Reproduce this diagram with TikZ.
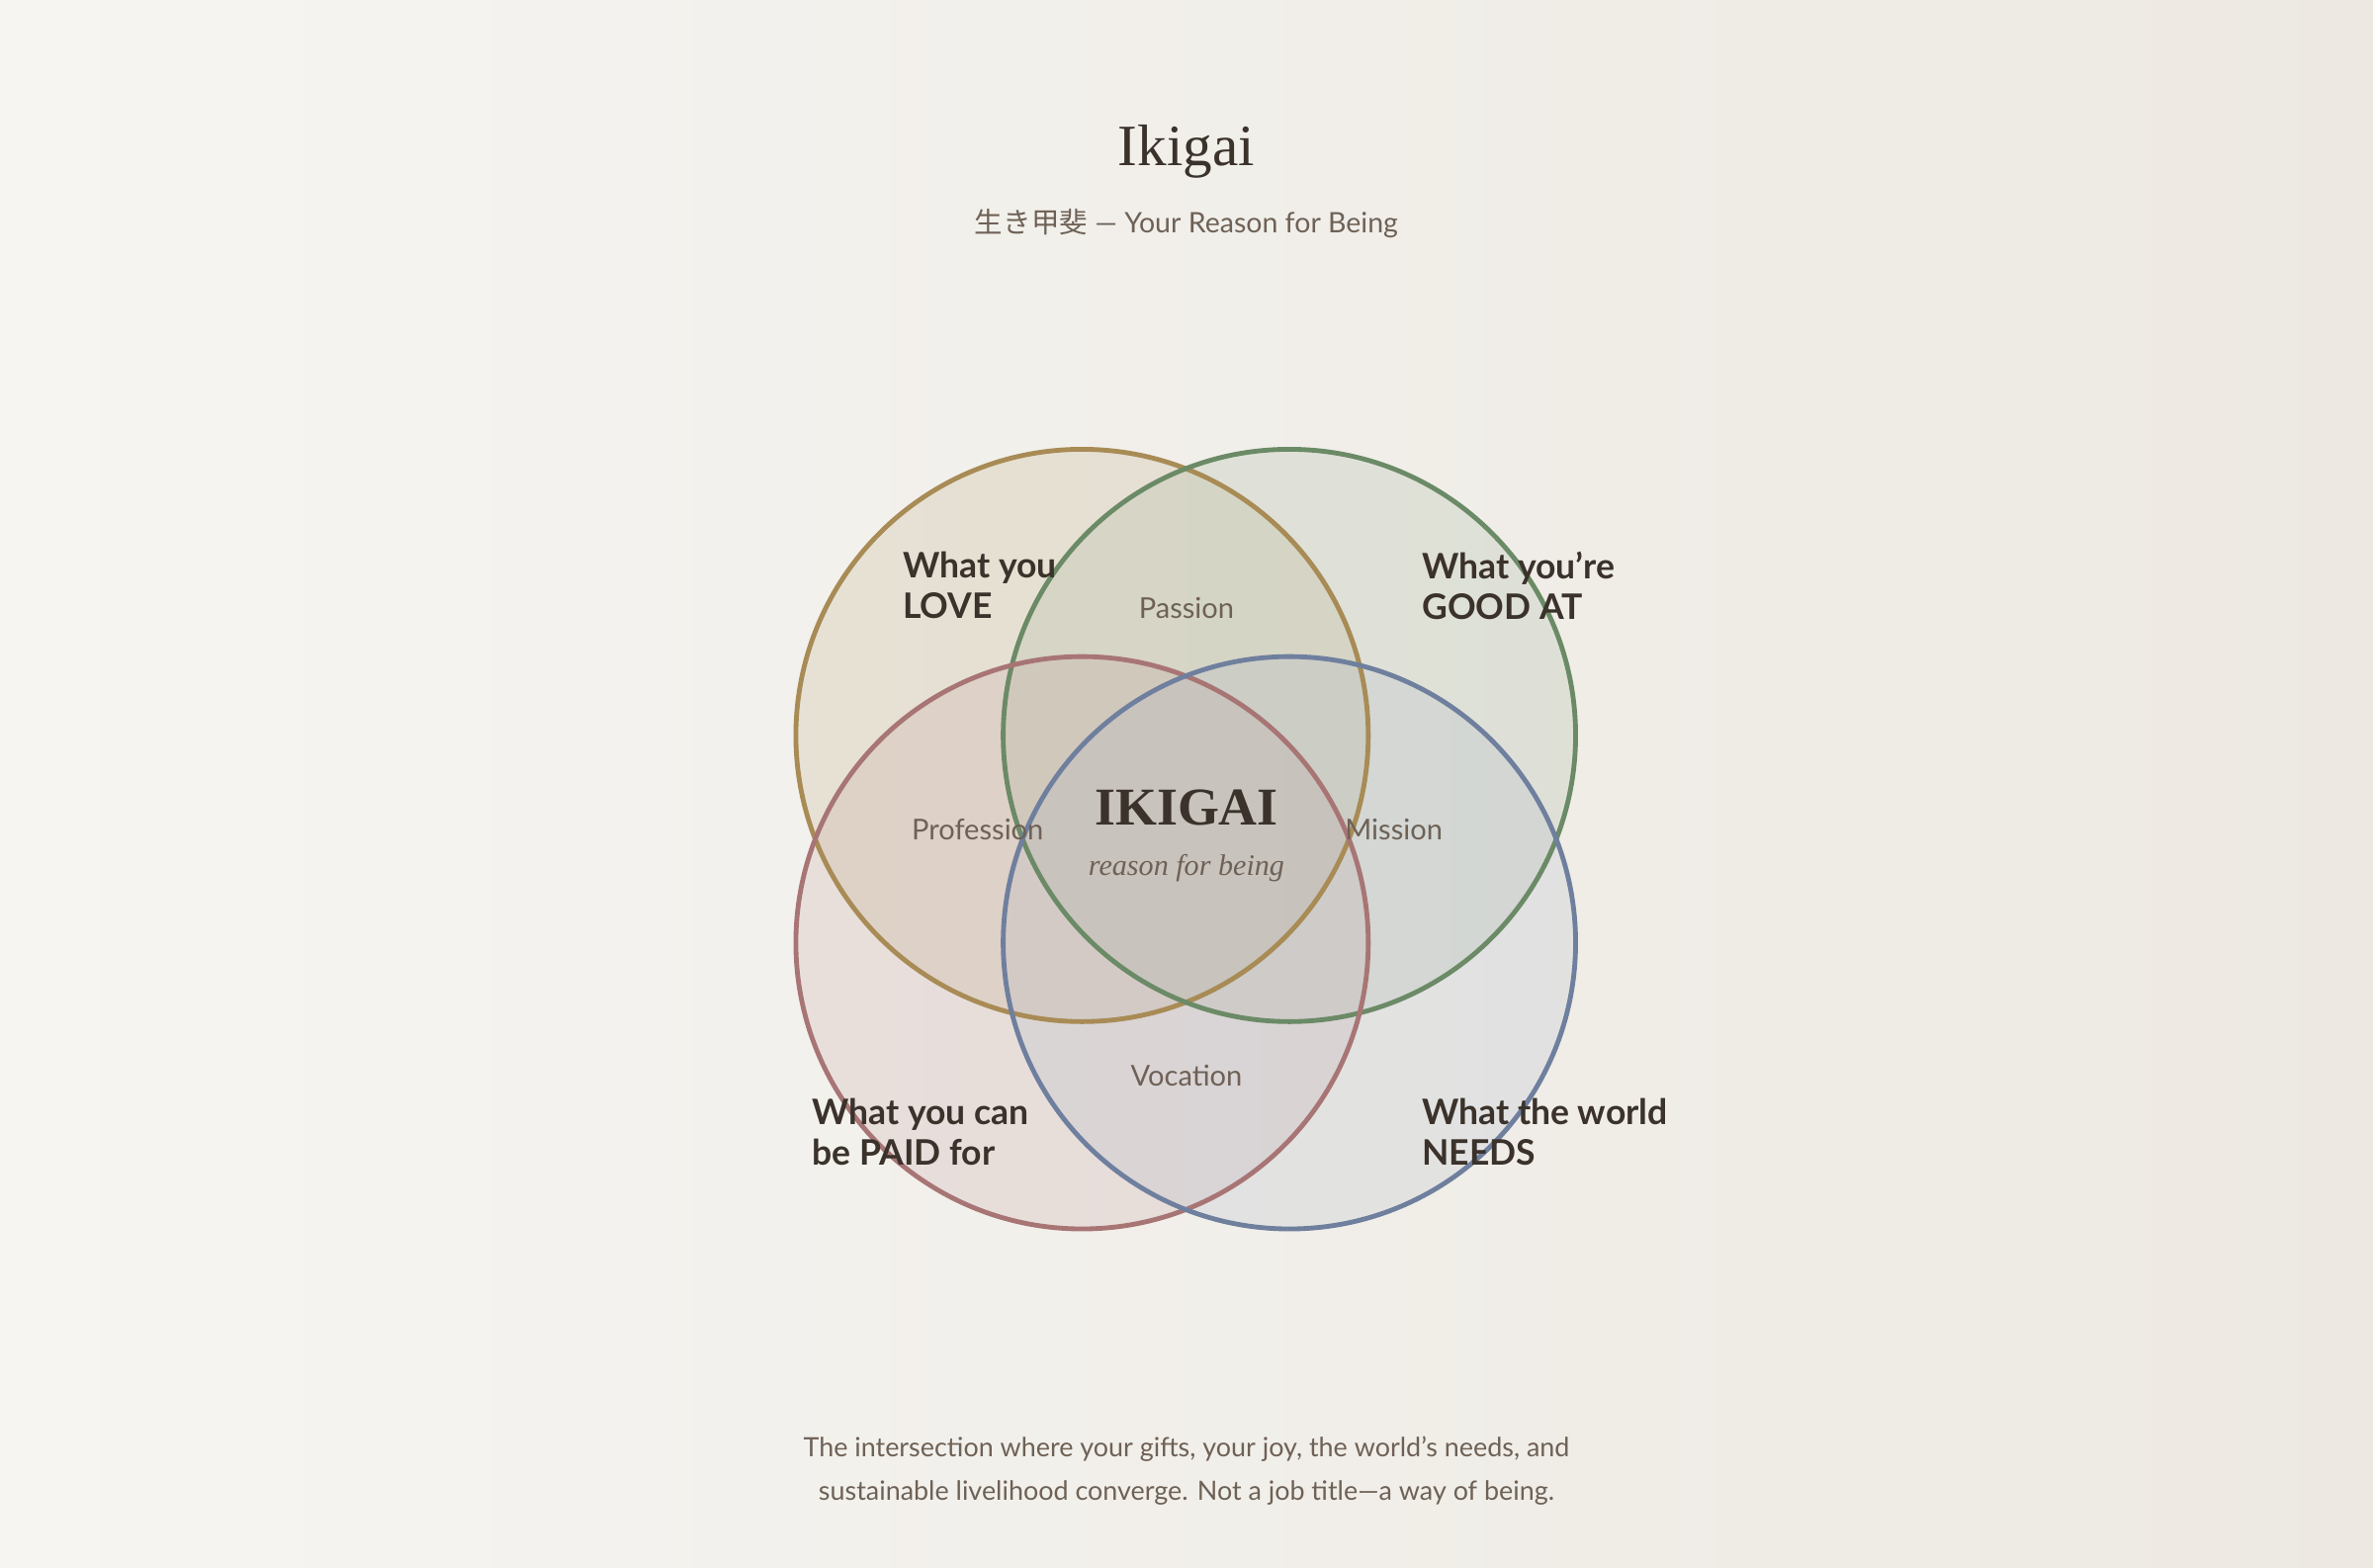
\documentclass[tikz,border=0pt]{standalone}
\usepackage{fontspec}
\setmainfont{Lato}
\newfontfamily\serifb{Liberation Serif}
\newfontfamily\cjk{Noto Sans CJK JP}
\definecolor{bgA}{HTML}{F6F5F2}
\definecolor{bgB}{HTML}{EDE9E2}
\definecolor{ink}{HTML}{3A322B}
\definecolor{soft}{HTML}{6E6156}
\definecolor{loveC}{HTML}{A88B55}
\definecolor{goodC}{HTML}{6B8A66}
\definecolor{paidC}{HTML}{A87575}
\definecolor{needC}{HTML}{6F7F9E}
\tikzset{
 ring/.style={fill opacity=0.2},
 edge/.style={line width=0.9pt},
 big/.style={font=\fontsize{6.6}{7.6}\selectfont\bfseries, text=ink, align=left, anchor=north west, inner sep=0},
 mid/.style={font=\fontsize{5.4}{6.4}\selectfont, text=soft, inner sep=0},
}
\begin{document}
\begin{tikzpicture}[x=0.01cm,y=-0.01cm]
\shade[left color=bgA,right color=bgB] (0,0) rectangle (1568,1036);
\useasboundingbox (0,0) rectangle (1568,1036);
\node[font=\serifb\fontsize{11}{12}\selectfont, text=ink] (title) at (784,100) {Ikigai};
\node[font=\fontsize{5.3}{6}\selectfont, text=soft] (sub) at (784,148) {{\cjk 生き甲斐} — Your Reason for Being};
\fill[loveC!80,ring] (715,486) circle[radius=1.89cm];
\fill[goodC!70,ring] (852,486) circle[radius=1.89cm];
\fill[paidC!75,ring] (715,623) circle[radius=1.89cm];
\fill[needC!60,ring] (852,623) circle[radius=1.89cm];
\draw[loveC,edge] (715,486) circle[radius=1.89cm];
\draw[goodC,edge] (852,486) circle[radius=1.89cm];
\draw[paidC,edge] (715,623) circle[radius=1.89cm];
\draw[needC,edge] (852,623) circle[radius=1.89cm];
\node[big] (love) at (596,364) {What you\\LOVE};
\node[big] (good) at (939,364) {What you're\\GOOD AT};
\node[big] (paid) at (536,725) {What you can\\be PAID for};
\node[big] (need) at (939,725) {What the world\\NEEDS};
\node[mid] (passion) at (784,402) {Passion};
\node[mid] (prof) at (646,548) {Profession};
\node[mid] (mission) at (921,548) {Mission};
\node[mid] (voc) at (784,711) {Vocation};
\node[font=\serifb\bfseries\fontsize{10}{11}\selectfont, text=ink] (ik) at (784,534) {IKIGAI};
\node[font=\serifb\itshape\fontsize{5.6}{6}\selectfont, text=soft] (rb) at (784,574) {reason for being};
\node[font=\fontsize{5}{8.2}\selectfont, text=soft, align=center] (foot) at (784,972) {The intersection where your gifts, your joy, the world's needs, and\\sustainable livelihood converge. Not a job title—a way of being.};
\end{tikzpicture}
\end{document}
